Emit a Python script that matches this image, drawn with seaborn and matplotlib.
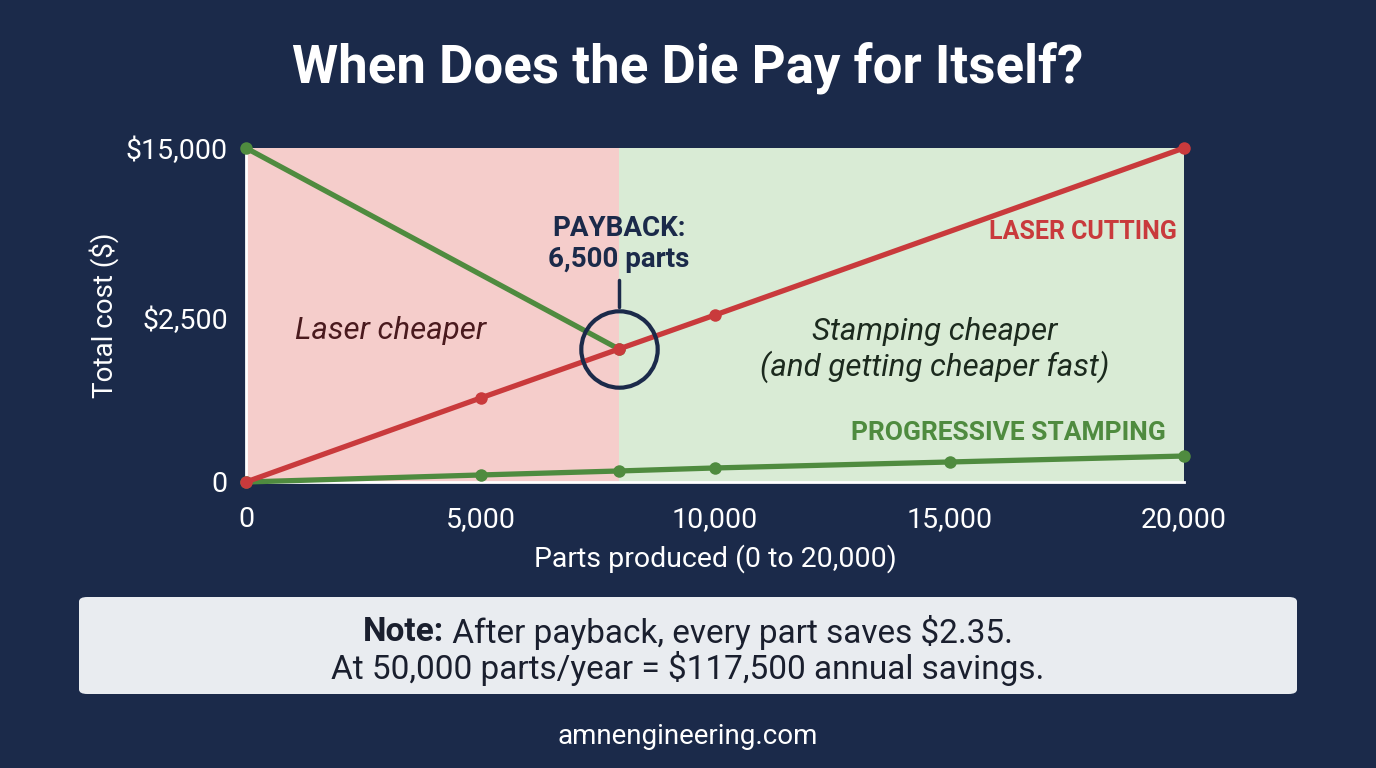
import numpy as np
import pandas as pd
import matplotlib
matplotlib.use("Agg")
import matplotlib.pyplot as plt
from matplotlib.patches import FancyBboxPatch
import seaborn as sns

# --- data ---
parts_laser = [0, 5000, 7950, 10000, 20000]
cost_laser = [0, 1280, 2027, 2721, 15000]

parts_stamp = [0, 5000, 7950, 10000, 15000, 20000]
cost_stamp = [0, 107, 168, 214, 305, 396]

# upfront die cost line, drops to payback point
parts_die = [0, 7950]
cost_die = [15000, 2027]

payback_x = 7950
payback_y = 2027

x_ticks = [0, 5000, 10000, 15000, 20000]
x_ticklabels = ["0", "5,000", "10,000", "15,000", "20,000"]
y_ticks = [0, 2500, 15000]
y_ticklabels = ["0", "$2,500", "$15,000"]

NAVY = "#1b2a4a"
RED = "#c93a3c"
GREEN = "#4f8b3f"
PINK_BG = "#f5cdcb"
GREEN_BG = "#d9ebd5"

sns.set_theme(style="white")
plt.rcParams["font.family"] = ["Roboto", "DejaVu Sans"]

fig = plt.figure(figsize=(13.76, 7.68), dpi=100, facecolor=NAVY)
ax = fig.add_axes([246 / 1376, 1 - 482 / 768, 938 / 1376, 334 / 768])

# y axis is squeezed: 0 -> 2,500 takes half the height
knots_c = [-15000, 0, 2500, 15000, 30000]
knots_p = [-1, 0, 0.491, 1, 2]


def fwd(c):
    return np.interp(c, knots_c, knots_p)


def inv(p):
    return np.interp(p, knots_p, knots_c)


ax.set_yscale("function", functions=(fwd, inv))
ax.set_xlim(0, 20000)
ax.set_ylim(0, 15000)

ax.axvspan(0, payback_x, color=PINK_BG, zorder=0, lw=0)
ax.axvspan(payback_x, 20000, color=GREEN_BG, zorder=0, lw=0)

df_laser = pd.DataFrame({"parts": parts_laser, "cost": cost_laser})
df_stamp = pd.DataFrame({"parts": parts_stamp, "cost": cost_stamp})
df_die = pd.DataFrame({"parts": parts_die, "cost": cost_die})

line_kw = dict(linewidth=3.8, marker="o", markersize=9, markeredgewidth=0, clip_on=False)
sns.lineplot(data=df_die, x="parts", y="cost", color=GREEN, ax=ax, zorder=3, **line_kw)
sns.lineplot(data=df_stamp, x="parts", y="cost", color=GREEN, ax=ax, zorder=3, **line_kw)
sns.lineplot(data=df_laser, x="parts", y="cost", color=RED, ax=ax, zorder=4, **line_kw)

# payback ring + pointer
px_frac = payback_x / 20000
ax.plot([payback_x], [payback_y], marker="o", markersize=55, markerfacecolor="none",
        markeredgecolor=NAVY, markeredgewidth=3, zorder=5, clip_on=False)
ax.plot([px_frac, px_frac], [0.524, 0.605], transform=ax.transAxes, color=NAVY, lw=2.5, zorder=5)
ax.text(px_frac, 0.712, "PAYBACK:\n6,500 parts", transform=ax.transAxes, ha="center", va="center",
        fontsize=20, fontweight="bold", color=NAVY, linespacing=1.2)

ax.text(0.9925, 0.748, "LASER CUTTING", transform=ax.transAxes, ha="right", va="center",
        fontsize=18, fontweight="bold", color=RED)
ax.text(0.981, 0.147, "PROGRESSIVE STAMPING", transform=ax.transAxes, ha="right", va="center",
        fontsize=19, fontweight="bold", color=GREEN)
ax.text(0.154, 0.455, "Laser cheaper", transform=ax.transAxes, ha="center", va="center",
        fontsize=22.5, style="italic", color="#4a1a1e")
ax.text(0.734, 0.395, "Stamping cheaper\n(and getting cheaper fast)", transform=ax.transAxes,
        ha="center", va="center", fontsize=22.5, style="italic", color="#1c2a1e", linespacing=1.2)

ax.set_xticks(x_ticks, x_ticklabels)
ax.set_yticks(y_ticks, y_ticklabels)
ax.minorticks_off()
ax.tick_params(axis="both", colors="white", labelsize=20.5, length=0)
ax.tick_params(axis="x", pad=17)
ax.tick_params(axis="y", pad=13)
ax.set_xlabel("Parts produced (0 to 20,000)", color="white", fontsize=20.5, labelpad=8)
ax.set_ylabel("Total cost ($)", color="white", fontsize=20, labelpad=5)
for side in ["top", "right"]:
    ax.spines[side].set_visible(False)
for side in ["left", "bottom"]:
    ax.spines[side].set_color("white")
    ax.spines[side].set_linewidth(2)

fig.text(0.5, 1 - 68 / 768, "When Does the Die Pay for Itself?", ha="center", va="center",
         fontsize=38, fontweight="bold", color="white")

# note box
box = FancyBboxPatch((79 / 1376, 1 - 694 / 768), (1297 - 79) / 1376, 97 / 768,
                     boxstyle="round,pad=0,rounding_size=0.006", transform=fig.transFigure,
                     facecolor="#e9ecf0", edgecolor="none")
fig.patches.append(box)

renderer = fig.canvas.get_renderer()
t_bold = fig.text(0, 0, "Note:", fontsize=24, fontweight="bold", color="#1a1f2e")
t_rest = fig.text(0, 0, " After payback, every part saves $2.35.", fontsize=24, color="#1a1f2e")
w1 = t_bold.get_window_extent(renderer).width / fig.bbox.width
w2 = t_rest.get_window_extent(renderer).width / fig.bbox.width
x0 = 0.5 - (w1 + w2) / 2
y1 = 1 - 632 / 768
t_bold.set_position((x0, y1))
t_bold.set_va("center")
t_rest.set_position((x0 + w1, y1))
t_rest.set_va("center")
fig.text(0.5, 1 - 668 / 768, "At 50,000 parts/year = $117,500 annual savings.", ha="center",
         va="center", fontsize=24, color="#1a1f2e")

fig.text(0.5, 1 - 737 / 768, "amnengineering.com", ha="center", va="center",
         fontsize=20, color="white")

fig.savefig("out.png", dpi=100, facecolor=NAVY)
